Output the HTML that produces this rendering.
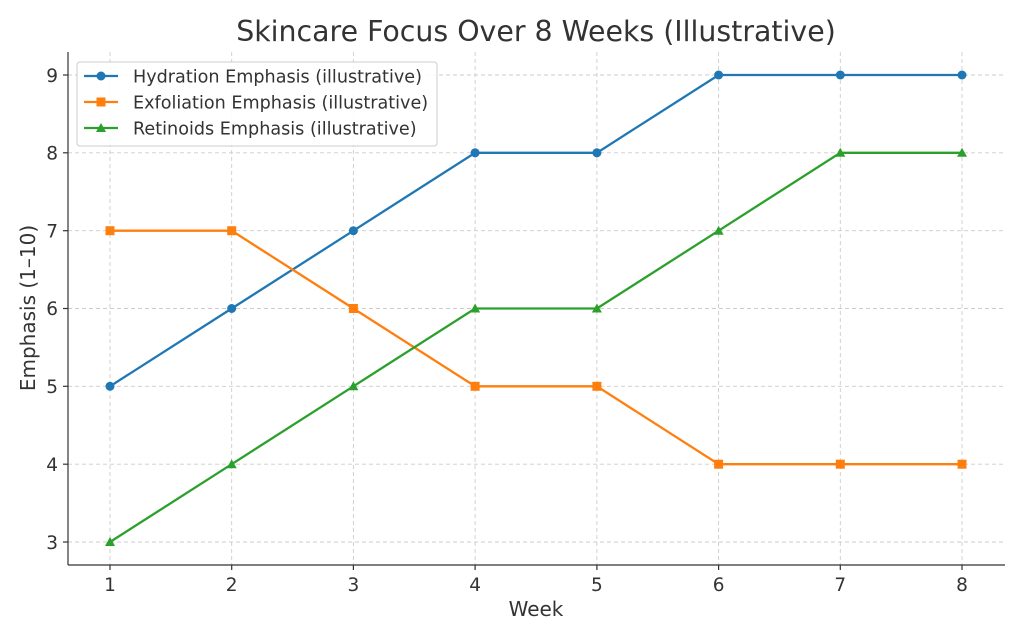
<!DOCTYPE html>
<html><head><style>body{margin:0;background:#fff}svg{display:block}text{font-family:"DejaVu Sans","Liberation Sans",sans-serif;fill:#333}</style></head><body>
<svg width="1024" height="640" xmlns="http://www.w3.org/2000/svg">
<rect width="1024" height="640" fill="#fff"/>
<g stroke="#ccc" stroke-dasharray="4,3" stroke-width="0.9">
<line x1="110" y1="52" x2="110" y2="565"/><line x1="231.7" y1="52" x2="231.7" y2="565"/><line x1="353.4" y1="52" x2="353.4" y2="565"/><line x1="475.1" y1="52" x2="475.1" y2="565"/><line x1="596.9" y1="52" x2="596.9" y2="565"/><line x1="718.6" y1="52" x2="718.6" y2="565"/><line x1="840.3" y1="52" x2="840.3" y2="565"/><line x1="962" y1="52" x2="962" y2="565"/>
<line x1="68" y1="75" x2="1005" y2="75"/><line x1="68" y1="152.8" x2="1005" y2="152.8"/><line x1="68" y1="230.7" x2="1005" y2="230.7"/><line x1="68" y1="308.5" x2="1005" y2="308.5"/><line x1="68" y1="386.3" x2="1005" y2="386.3"/><line x1="68" y1="464.2" x2="1005" y2="464.2"/><line x1="68" y1="542" x2="1005" y2="542"/>
</g>
<g stroke="#333" stroke-width="1.2"><line x1="68" y1="52" x2="68" y2="565"/><line x1="68" y1="565" x2="1005" y2="565"/>
<line x1="110" y1="565" x2="110" y2="570"/><line x1="231.7" y1="565" x2="231.7" y2="570"/><line x1="353.4" y1="565" x2="353.4" y2="570"/><line x1="475.1" y1="565" x2="475.1" y2="570"/><line x1="596.9" y1="565" x2="596.9" y2="570"/><line x1="718.6" y1="565" x2="718.6" y2="570"/><line x1="840.3" y1="565" x2="840.3" y2="570"/><line x1="962" y1="565" x2="962" y2="570"/>
<line x1="63" y1="75" x2="68" y2="75"/><line x1="63" y1="152.8" x2="68" y2="152.8"/><line x1="63" y1="230.7" x2="68" y2="230.7"/><line x1="63" y1="308.5" x2="68" y2="308.5"/><line x1="63" y1="386.3" x2="68" y2="386.3"/><line x1="63" y1="464.2" x2="68" y2="464.2"/><line x1="63" y1="542" x2="68" y2="542"/></g>
<g font-size="18.5" text-anchor="middle"><text x="110" y="591">1</text><text x="231.7" y="591">2</text><text x="353.4" y="591">3</text><text x="475.1" y="591">4</text><text x="596.9" y="591">5</text><text x="718.6" y="591">6</text><text x="840.3" y="591">7</text><text x="962" y="591">8</text></g>
<g font-size="18.5" text-anchor="end"><text x="58" y="82">9</text><text x="58" y="159.5">8</text><text x="58" y="237.5">7</text><text x="58" y="315">6</text><text x="58" y="393">5</text><text x="58" y="471">4</text><text x="58" y="549">3</text></g>
<text x="536" y="616" font-size="20" text-anchor="middle">Week</text>
<text transform="translate(35,308) rotate(-90)" font-size="20" text-anchor="middle">Emphasis (1–10)</text>
<text x="536" y="41" font-size="28.4" text-anchor="middle">Skincare Focus Over 8 Weeks (Illustrative)</text>
<polyline fill="none" stroke="#1f77b4" stroke-width="2.3" points="110,386.3 231.7,308.5 353.4,230.7 475.1,152.8 596.9,152.8 718.6,75 840.3,75 962,75"/>
<g fill="#1f77b4"><circle cx="110" cy="386.3" r="4.5"/><circle cx="231.7" cy="308.5" r="4.5"/><circle cx="353.4" cy="230.7" r="4.5"/><circle cx="475.1" cy="152.8" r="4.5"/><circle cx="596.9" cy="152.8" r="4.5"/><circle cx="718.6" cy="75" r="4.5"/><circle cx="840.3" cy="75" r="4.5"/><circle cx="962" cy="75" r="4.5"/></g>
<polyline fill="none" stroke="#ff7f0e" stroke-width="2.3" points="110,230.7 231.7,230.7 353.4,308.5 475.1,386.3 596.9,386.3 718.6,464.2 840.3,464.2 962,464.2"/>
<g fill="#ff7f0e"><rect x="105.5" y="226.2" width="9" height="9"/><rect x="227.2" y="226.2" width="9" height="9"/><rect x="348.9" y="304" width="9" height="9"/><rect x="470.6" y="381.8" width="9" height="9"/><rect x="592.4" y="381.8" width="9" height="9"/><rect x="714.1" y="459.7" width="9" height="9"/><rect x="835.8" y="459.7" width="9" height="9"/><rect x="957.5" y="459.7" width="9" height="9"/></g>
<polyline fill="none" stroke="#2ca02c" stroke-width="2.3" points="110,542 231.7,464.2 353.4,386.3 475.1,308.5 596.9,308.5 718.6,230.7 840.3,152.8 962,152.8"/>
<g fill="#2ca02c">
<polygon points="110,537 115,546 105,546"/><polygon points="231.7,459.2 236.7,468.2 226.7,468.2"/><polygon points="353.4,381.3 358.4,390.3 348.4,390.3"/><polygon points="475.1,303.5 480.1,312.5 470.1,312.5"/><polygon points="596.9,303.5 601.9,312.5 591.9,312.5"/><polygon points="718.6,225.7 723.6,234.7 713.6,234.7"/><polygon points="840.3,147.8 845.3,156.8 835.3,156.8"/><polygon points="962,147.8 967,156.8 957,156.8"/></g>
<rect x="77" y="62" width="360" height="84" rx="3" fill="#fff" fill-opacity="0.85" stroke="#ccc"/>
<line x1="84" y1="76" x2="118" y2="76" stroke="#1f77b4" stroke-width="2.3"/><circle cx="101" cy="76" r="4.5" fill="#1f77b4"/>
<line x1="84" y1="102" x2="118" y2="102" stroke="#ff7f0e" stroke-width="2.3"/><rect x="96.5" y="97.5" width="9" height="9" fill="#ff7f0e"/>
<line x1="84" y1="128" x2="118" y2="128" stroke="#2ca02c" stroke-width="2.3"/><polygon points="101,123 106,132 96,132" fill="#2ca02c"/>
<g font-size="17.6"><text x="133" y="82.5">Hydration Emphasis (illustrative)</text><text x="133" y="108.5">Exfoliation Emphasis (illustrative)</text><text x="133" y="134.5">Retinoids Emphasis (illustrative)</text></g>
</svg></body></html>
